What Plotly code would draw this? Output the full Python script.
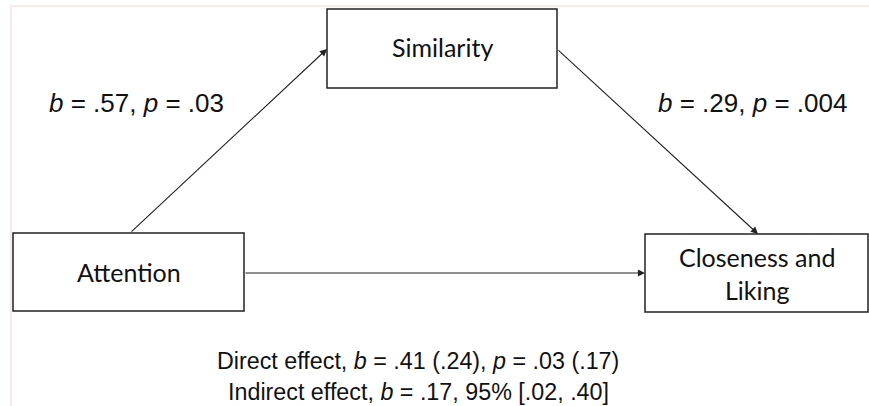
import plotly.graph_objects as go

NB = "\u00a0"
# ---- data ----
node_names = ["Similarity", "Attention", "Closeness and<br>Liking"]
path_a_label = "<i>b</i> = .57, <i>p</i> = .03"
path_b_label = "<i>b</i> = .29, <i>p</i> = .004"
effect_lines = [
    "Direct effect, <i>b</i> = .41 (.24), <i>p</i> = .03 (.17)",
    "Indirect effect, <i>b</i> = .17, 95% [.02, .40]",
]

# ---- layout config (pixel-like coordinates, y downward) ----
W, H = 869, 406
boxes = {  # x0, x1, y0, y1
    "Similarity": (327, 557, 9, 88),
    "Attention": (13, 244, 233, 311),
    "Closeness and<br>Liking": (645, 868, 234, 312),
}
arrows = [  # (tail_x, tail_y, tip_x, tip_y)
    (130, 233, 327, 49),
    (557, 49, 758, 234),
    (244, 273, 645, 273),
]

fig = go.Figure()
fig.add_trace(go.Scatter(x=[0, W], y=[0, H], mode="markers",
                         marker=dict(opacity=0), hoverinfo="skip", showlegend=False))

shapes = []
# faint page border
shapes.append(dict(type="line", xref="x", yref="y", x0=10, x1=W, y0=6, y1=6,
                   line=dict(color="#f7eaea", width=2)))
shapes.append(dict(type="line", xref="x", yref="y", x0=11, x1=11, y0=6, y1=H,
                   line=dict(color="#f7eaea", width=2)))

annotations = []
box_font = dict(family="Lato, Carlito, Calibri, sans-serif", size=25, color="#111")
for name in node_names:
    x0, x1, y0, y1 = boxes[name]
    shapes.append(dict(type="rect", xref="x", yref="y", x0=x0, x1=x1, y0=y0, y1=y1,
                       line=dict(color="#222", width=1.5), fillcolor="white"))
    dy = -2 if name == "Similarity" else 0
    annotations.append(dict(x=(x0 + x1) / 2, y=(y0 + y1) / 2 + dy, xref="x", yref="y",
                            text=name, showarrow=False, font=box_font,
                            xanchor="center", yanchor="middle"))

for tx, ty, hx, hy in arrows:
    annotations.append(dict(x=hx, y=hy, ax=tx, ay=ty, xref="x", yref="y",
                            axref="x", ayref="y", text="", showarrow=True,
                            arrowhead=2, arrowsize=1.3, arrowwidth=1.1,
                            arrowcolor="#222", standoff=0, startstandoff=0))

lbl_font = dict(family="Liberation Sans, Arial, sans-serif", size=26, color="#111")
eff_font = dict(family="Liberation Sans, Arial, sans-serif", size=23.3, color="#111")
annotations.append(dict(x=47, y=103, xref="x", yref="y", text=path_a_label,
                        showarrow=False, font=lbl_font, xanchor="left", yanchor="middle"))
annotations.append(dict(x=656, y=103, xref="x", yref="y", text=path_b_label,
                        showarrow=False, font=lbl_font, xanchor="left", yanchor="middle"))
for i, line in enumerate(effect_lines):
    annotations.append(dict(x=418, y=361 + 31 * i, xref="x", yref="y", text=line,
                            showarrow=False, font=eff_font, xanchor="center", yanchor="middle"))

fig.update_layout(
    width=W, height=H, margin=dict(l=0, r=0, t=0, b=0),
    paper_bgcolor="white", plot_bgcolor="white",
    xaxis=dict(range=[0, W], visible=False, fixedrange=True),
    yaxis=dict(range=[H, 0], visible=False, fixedrange=True),
    shapes=shapes, annotations=annotations, showlegend=False,
)
fig.write_html("out.html", config={"displayModeBar": False},
               post_script="document.body.style.margin='0';document.body.style.overflow='hidden';")
